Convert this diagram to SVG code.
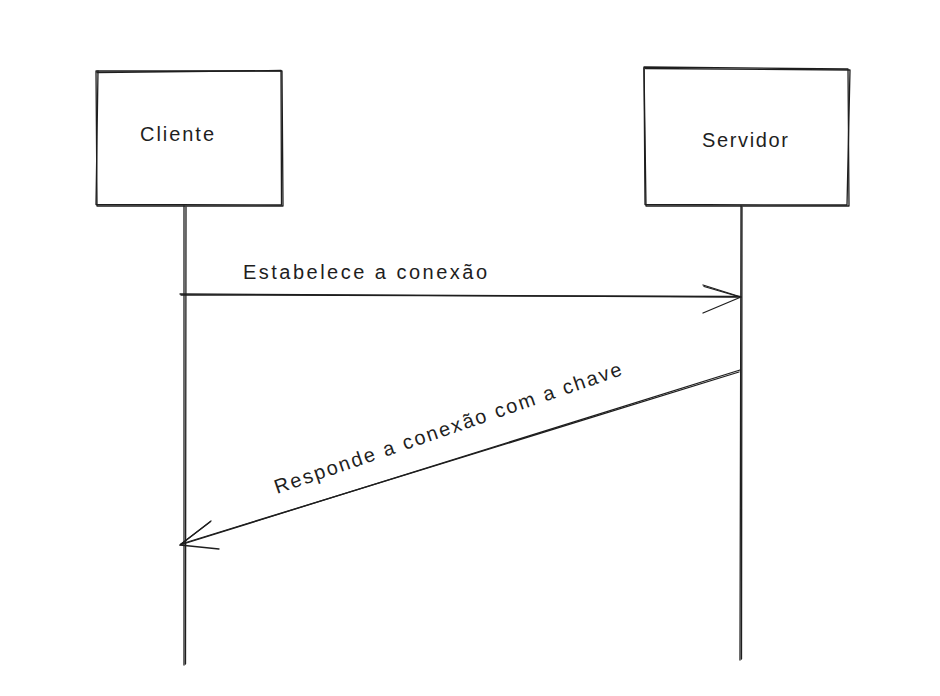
<svg xmlns="http://www.w3.org/2000/svg" width="940" height="696" viewBox="0 0 940 696">
<style>
.s{fill:none;stroke:#1e1e1e;stroke-width:1.3;stroke-linecap:round;stroke-linejoin:round}
.t{font-family:"Liberation Sans","Noto Sans",sans-serif;font-size:20px;fill:#1e1e1e}
</style>
<rect width="940" height="696" fill="#ffffff"/>
<g id="cliente">
<path class="s" d="M96 71 L282 71 L283 206 L97 206 Z"/>
<path class="s" d="M97 72.5 L281 70.5 L281.5 205 L96 204.5 L98 71"/>
<text class="t" x="177" y="141" text-anchor="middle" textLength="74">Cliente</text>
</g>
<g id="servidor">
<path class="s" d="M644 67 L848 69 L849 206 L646 206 Z"/>
<path class="s" d="M645.5 68.5 L850 70 L847 205 L645 204.5 L644 68"/>
<text class="t" x="745" y="147" text-anchor="middle" textLength="86">Servidor</text>
</g>
<g id="connectors">
<path class="s" d="M184 206 L184 665"/>
<path class="s" d="M186 207 L185.5 664"/>
<path class="s" d="M741 206 L740 660"/>
<path class="s" d="M742 207 L741.5 659"/>
<path class="s" d="M180 294 L741 297"/>
<path class="s" d="M181 295 L740 296.5"/>
<path class="s" d="M703 285 L741 297 L703 313"/>
<path class="s" d="M704 286.5 L740 297"/>
<path class="s" d="M740 370 L180 545"/>
<path class="s" d="M739 372 L181 544"/>
<path class="s" d="M211 521 L180 545 L219 549"/>
<path class="s" d="M210 522 L181 544"/>
</g>
<g id="labels">
<text class="t" x="243" y="279" textLength="244">Estabelece a conexão</text>
<text class="t" transform="translate(277 494) rotate(-19)" x="0" y="0" textLength="366">Responde a conexão com a chave</text>
</g>
</svg>
